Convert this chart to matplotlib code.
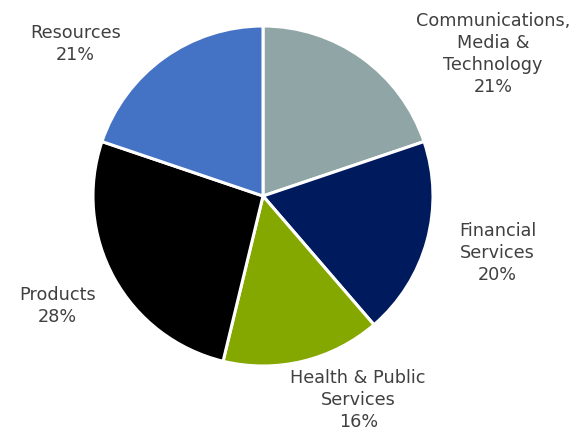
import matplotlib.pyplot as plt

# sector split, clockwise from 12 o'clock
sectors = ['Communications,\nMedia &\nTechnology', 'Financial\nServices',
           'Health & Public\nServices', 'Products', 'Resources']
shares = [21, 20, 16, 28, 21]
colors = ['#8FA5A6', '#001A5E', '#84A800', '#000000', '#4472C4']

# label anchors (data units, pie radius = 1)
label_xy = [(1.353, 0.84), (1.38, -0.33), (0.56, -1.195), (-1.21, -0.64), (-1.105, 0.9)]

fig = plt.figure(figsize=(5.75, 4.31), dpi=100)
ax = fig.add_axes([0, 0, 1, 1])

ax.pie(shares, colors=colors, startangle=90, counterclock=False, radius=1,
       wedgeprops=dict(edgecolor='white', linewidth=2.2))

for name, val, (x, y) in zip(sectors, shares, label_xy):
    ax.text(x, y, '%s\n%d%%' % (name, val), ha='center', va='center',
            fontsize=12.7, color='#404040', linespacing=1.3)

ax.set_xlim(-263 / 170, (575 - 263) / 170)
ax.set_ylim((197 - 431) / 170, 197 / 170)
ax.set_aspect('auto')
ax.axis('off')

fig.savefig('out.png', dpi=100)
